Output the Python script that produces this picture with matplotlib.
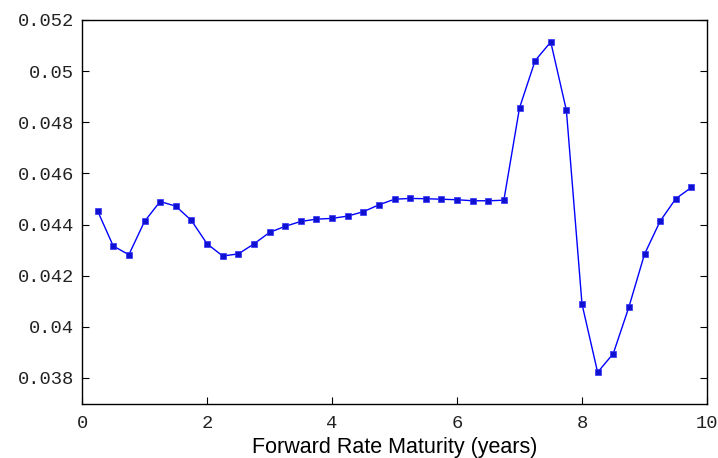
import matplotlib.pyplot as plt

# forward rate curve sampled every quarter year
maturity = [0.25, 0.5, 0.75, 1.0, 1.25, 1.5, 1.75, 2.0, 2.25, 2.5,
            2.75, 3.0, 3.25, 3.5, 3.75, 4.0, 4.25, 4.5, 4.75, 5.0,
            5.25, 5.5, 5.75, 6.0, 6.25, 6.5, 6.75, 7.0, 7.25, 7.5,
            7.75, 8.0, 8.25, 8.5, 8.75, 9.0, 9.25, 9.5, 9.75]
fwd_rate = [0.04453, 0.04316, 0.04282, 0.04412, 0.04490, 0.04472, 0.04416, 0.04325, 0.04277, 0.04285,
            0.04324, 0.04369, 0.04393, 0.04412, 0.04421, 0.04424, 0.04433, 0.04450, 0.04477, 0.04499,
            0.04502, 0.04501, 0.04499, 0.04497, 0.04493, 0.04493, 0.04495, 0.04856, 0.05041, 0.05114,
            0.04847, 0.04089, 0.03822, 0.03895, 0.04077, 0.04284, 0.04413, 0.04501, 0.04545]

xticks = [0, 2, 4, 6, 8, 10]
yticks = [0.038, 0.04, 0.042, 0.044, 0.046, 0.048, 0.05, 0.052]
ytick_labels = ['0.038', '0.04', '0.042', '0.044', '0.046', '0.048', '0.05', '0.052']

fig = plt.figure(figsize=(7.18, 4.58), dpi=100)
ax = fig.add_axes([82 / 718, 1 - 403.5 / 458, (707 - 82) / 718, (403.5 - 20) / 458])

ax.plot(maturity, fwd_rate, color='#0000ff', lw=1.0, marker='s', ms=4.5,
        markerfacecolor='#1010d0', markeredgecolor='#3030ff', markeredgewidth=0.5)

ax.set_xlim(0, 10)
ax.set_ylim(0.037, 0.052)
ax.set_xticks(xticks)
ax.set_xticklabels([str(t) for t in xticks])
ax.set_yticks(yticks)
ax.set_yticklabels(ytick_labels)
ax.tick_params(direction='in', length=5, width=0.8, top=False, right=True,
               labelsize=13.5, labelcolor='#222222')
ax.tick_params(axis='y', pad=6)
ax.tick_params(axis='x', pad=8)
for lab in ax.get_xticklabels() + ax.get_yticklabels():
    lab.set_family('Liberation Mono')
for s in ax.spines.values():
    s.set_linewidth(1.0)

ax.set_xlabel('Forward Rate Maturity (years)', family='Liberation Sans',
              fontsize=15.5, labelpad=4)

fig.savefig('out.png', dpi=100)
